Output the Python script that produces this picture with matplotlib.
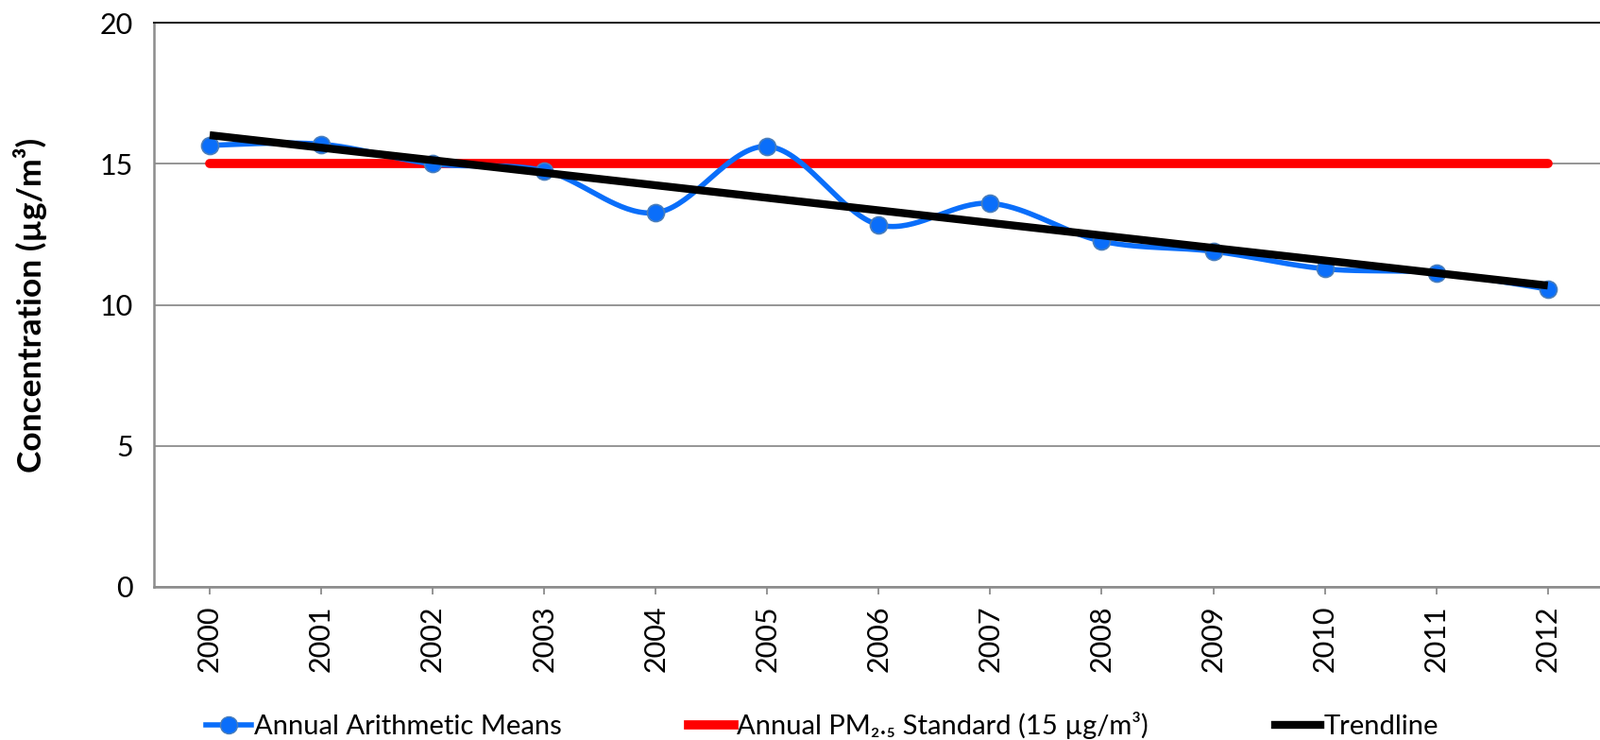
import numpy as np
import matplotlib
matplotlib.use("Agg")
import matplotlib.pyplot as plt
from matplotlib.lines import Line2D

plt.rcParams['font.family'] = ['Lato', 'DejaVu Sans']

years = ['2000', '2001', '2002', '2003', '2004', '2005', '2006',
         '2007', '2008', '2009', '2010', '2011', '2012']
means = [15.66, 15.70, 15.00, 14.76, 13.27, 15.62, 12.84,
         13.60, 12.26, 11.90, 11.28, 11.14, 10.56]
standard = [15] * len(years)

x = np.arange(len(years))
y = np.array(means)

# Excel-style smoothed line (Catmull-Rom via cubic Bezier)
def smooth(xs, ys, n=40):
    px = np.concatenate([[xs[0]], xs, [xs[-1]]])
    py = np.concatenate([[ys[0]], ys, [ys[-1]]])
    ox, oy = [], []
    t = np.linspace(0, 1, n)
    for i in range(1, len(px) - 2):
        p0 = np.array([px[i], py[i]])
        p3 = np.array([px[i + 1], py[i + 1]])
        p1 = p0 + (np.array([px[i + 1], py[i + 1]]) - np.array([px[i - 1], py[i - 1]])) / 6
        p2 = p3 - (np.array([px[i + 2], py[i + 2]]) - np.array([px[i], py[i]])) / 6
        b = ((1 - t) ** 3)[:, None] * p0 + (3 * (1 - t) ** 2 * t)[:, None] * p1 \
            + (3 * (1 - t) * t ** 2)[:, None] * p2 + (t ** 3)[:, None] * p3
        ox.extend(b[:, 0]); oy.extend(b[:, 1])
    return np.array(ox), np.array(oy)

sx, sy = smooth(x.astype(float), y)
coef = np.polyfit(x, y, 1)
trend = np.polyval(coef, x)

fig = plt.figure(figsize=(16.94, 7.83), dpi=100)
ax = fig.add_axes([0.0962, 0.207, 0.906, 0.762])

blue = '#0A6EFA'
ax.plot(sx, sy, color=blue, lw=4, zorder=3, solid_capstyle='round')
ax.plot(x, y, 'o', ms=13, markerfacecolor='#0A6EFA', markeredgecolor='#4A7EBB',
        markeredgewidth=1.2, zorder=4)
ax.plot(x, standard, color='#FF0000', lw=7, solid_capstyle='round', zorder=2)
ax.plot(x, trend, color='black', lw=6, solid_capstyle='butt', zorder=5)

ax.set_xlim(-0.5, 12.5)
ax.set_ylim(0, 20)
ax.set_yticks([0, 5, 10, 15, 20])
ax.set_xticks(x)
ax.set_xticklabels(years, rotation=90)
ax.yaxis.grid(True, color='#8C8C8C', lw=1.3)
ax.set_axisbelow(True)
ax.spines['right'].set_visible(False)
ax.spines['top'].set_color('#222222')
ax.spines['top'].set_linewidth(1.5)
ax.spines['left'].set_color('#8C8C8C')
ax.spines['left'].set_linewidth(1.8)
ax.spines['bottom'].set_color('#8C8C8C')
ax.spines['bottom'].set_linewidth(1.8)
ax.tick_params(axis='y', length=0, pad=16, labelsize=22)
ax.tick_params(axis='x', length=6, width=1.3, color='#8C8C8C', pad=8, labelsize=22)
ax.set_ylabel('Concentration (µg/m³)', fontsize=25.5, fontweight='bold', labelpad=40)

handles = [
    Line2D([], [], color=blue, lw=4, marker='o', ms=13, markerfacecolor='#0A6EFA',
           markeredgecolor='#4A7EBB'),
    Line2D([], [], color='#FF0000', lw=7),
    Line2D([], [], color='black', lw=6),
]
labels = ['Annual Arithmetic Means', 'Annual PM₂.₅ Standard (15 µg/m³)', 'Trendline']
fig.legend(handles, labels, loc='center left', bbox_to_anchor=(0.122, 0.02),
           ncol=3, frameon=False, fontsize=21, handlelength=1.65, handletextpad=0.1,
           columnspacing=4.6, borderaxespad=0)

fig.savefig('out.png', dpi=100)
